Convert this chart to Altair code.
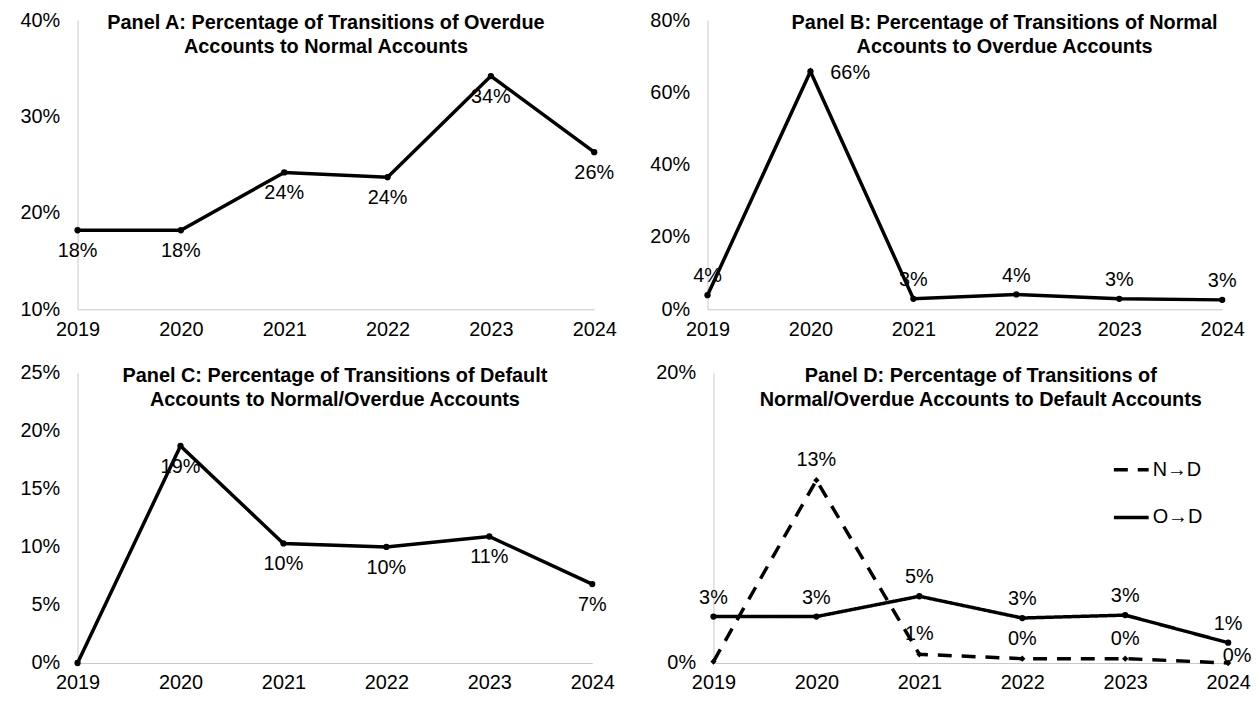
import altair as alt
import pandas as pd

years = ["2019", "2020", "2021", "2022", "2023", "2024"]
panel_a = [0.182, 0.182, 0.242, 0.237, 0.342, 0.263]
panel_b = [0.039, 0.658, 0.029, 0.041, 0.029, 0.026]
panel_c = [0.0, 0.187, 0.103, 0.100, 0.109, 0.068]
panel_d_nd = [0.001, 0.126, 0.006, 0.003, 0.003, 0.0]
panel_d_od = [0.032, 0.032, 0.046, 0.031, 0.033, 0.014]
series_names = ["N→D", "O→D"]

title_a = ["Panel A: Percentage of Transitions of Overdue", "Accounts to Normal Accounts"]
title_b = ["Panel B: Percentage of Transitions of Normal", "Accounts to Overdue Accounts"]
title_c = ["Panel C: Percentage of Transitions of Default", "Accounts to Normal/Overdue Accounts"]
title_d = ["Panel D: Percentage of Transitions of", "Normal/Overdue Accounts to Default Accounts"]

FONT = "Liberation Sans"
FS = 20


def mk_title(lines, dx):
    return alt.TitleParams(text=lines, fontSize=FS, fontWeight="bold", font=FONT,
                           color="black", anchor="middle", frame="group",
                           offset=-47, lineHeight=24, dx=dx)


def encs(ydom, yticks, extent):
    x = alt.X("year:O", scale=alt.Scale(type="point", padding=0),
              axis=alt.Axis(title=None, labelAngle=0, labelPadding=10))
    y = alt.Y("v:Q", scale=alt.Scale(domain=ydom, nice=False, zero=False),
              axis=alt.Axis(title=None, values=yticks, format=".0%",
                            labelPadding=18, minExtent=extent))
    return x, y


def label_layer(base, x, y, years_sel, dx, dy):
    return base.mark_text(font=FONT, fontSize=FS, color="black", align="center",
                          baseline="middle", dx=dx, dy=dy).encode(
        x=x, y=y, text=alt.Text("v:Q", format=".0%")
    ).transform_filter(alt.FieldOneOfPredicate(field="year", oneOf=years_sel))


def single_panel(vals, ydom, yticks, extent, width, height, title, label_specs):
    df = pd.DataFrame({"year": years, "v": vals})
    base = alt.Chart(df)
    x, y = encs(ydom, yticks, extent)
    line = base.mark_line(color="black", strokeWidth=3.5).encode(x=x, y=y)
    pts = base.mark_point(filled=True, size=40, shape="circle", color="black", opacity=1).encode(x=x, y=y)
    layers = [line, pts]
    for sel, dx, dy in label_specs:
        layers.append(label_layer(base, x, y, sel, dx, dy))
    return alt.layer(*layers).properties(width=width, height=height, title=title)


panel_A = single_panel(panel_a, [0.1, 0.4], [0.1, 0.2, 0.3, 0.4], 70, 520, 291,
                       mk_title(title_a, -10), [(years, 0, 21)])
panel_B = single_panel(panel_b, [0, 0.8], [0, 0.2, 0.4, 0.6, 0.8], 70, 518, 291,
                       mk_title(title_b, 40),
                       [(["2019", "2021", "2022", "2023", "2024"], 0, -19), (["2020"], 40, 2)])
panel_C = single_panel(panel_c, [0, 0.25], [0, 0.05, 0.1, 0.15, 0.2, 0.25], 62, 518, 292,
                       mk_title(title_c, 0),
                       [(["2020", "2021", "2022", "2023", "2024"], 0, 21)])

# Panel D
df_d = pd.DataFrame({
    "year": years * 2,
    "v": panel_d_nd + panel_d_od,
    "series": [series_names[0]] * 6 + [series_names[1]] * 6,
})
base_d = alt.Chart(df_d)
xd, yd = encs([0, 0.2], [0, 0.2], 70)
line_d = base_d.mark_line(color="black", strokeWidth=3.5).encode(
    x=xd, y=yd,
    strokeDash=alt.StrokeDash("series:N",
                              scale=alt.Scale(domain=series_names, range=[[14, 10], [1, 0]]),
                              legend=alt.Legend(title=None, orient="none", legendX=1041, legendY=433,
                                                symbolType="stroke", symbolSize=1225,
                                                symbolStrokeWidth=3.5, symbolStrokeColor="black",
                                                labelFontSize=FS, labelFont=FONT, labelColor="black",
                                                labelOffset=2, rowPadding=18)),
)
od = base_d.transform_filter(alt.datum.series == series_names[1])
nd = base_d.transform_filter(alt.datum.series == series_names[0])
pts_od = od.mark_point(filled=True, size=40, shape="circle", color="black", opacity=1).encode(x=xd, y=yd)
pts_nd = nd.mark_point(filled=True, size=40, shape="diamond", color="black", opacity=1).encode(x=xd, y=yd)
lab_od = label_layer(od, xd, yd, years, 0, -19)
lab_nd = label_layer(nd, xd, yd, ["2020", "2021", "2022", "2023"], 0, -20)
lab_nd_last = label_layer(nd, xd, yd, ["2024"], 9, -7)
panel_D = alt.layer(line_d, pts_od, pts_nd, lab_od, lab_nd, lab_nd_last).properties(
    width=518, height=292, title=mk_title(title_d, 10))

top = alt.hconcat(panel_A, panel_B, spacing=21)
bottom = alt.hconcat(panel_C, panel_D, spacing=29)
chart = alt.concat(top, bottom, columns=1, align="none", spacing=24).properties(
    padding=0
).configure_view(
    stroke=None
).configure_axis(
    domainColor="#c8c8c8", domainWidth=1, ticks=False, grid=False,
    labelFont=FONT, labelFontSize=FS, labelColor="black"
)

chart.save("out.html", embed_options={"renderer": "svg", "actions": False})
